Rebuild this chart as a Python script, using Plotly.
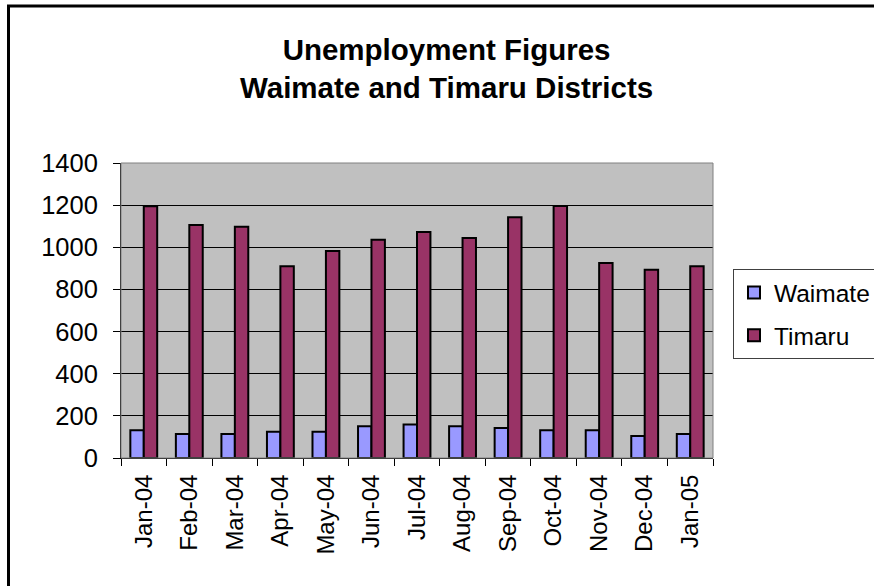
import plotly.graph_objects as go

months = ["Jan-04", "Feb-04", "Mar-04", "Apr-04", "May-04", "Jun-04", "Jul-04",
          "Aug-04", "Sep-04", "Oct-04", "Nov-04", "Dec-04", "Jan-05"]
waimate = [132, 114, 114, 124, 124, 151, 159, 151, 142, 132, 132, 105, 114]
timaru = [1195, 1106, 1098, 910, 982, 1036, 1072, 1044, 1142, 1196, 926, 893, 910]
y_ticks = [0, 200, 400, 600, 800, 1000, 1200, 1400]

FONT = "Liberation Sans, Arial, sans-serif"

W, H = 874, 586
L, R, T, B = 121, 713, 163, 458  # plot area in pixels


def px_x(p):
    return (p - L) / (R - L)


def px_y(p):
    return (B - p) / (B - T)


fig = go.Figure()
fig.add_trace(go.Bar(name="Waimate", x=months, y=waimate, legendgroup="w",
                     marker=dict(color="#9999FF", line=dict(color="black", width=2))))
fig.add_trace(go.Bar(name="Timaru", x=months, y=timaru, legendgroup="t",
                     marker=dict(color="#993366", line=dict(color="black", width=2))))

fig.update_layout(
    width=W, height=H,
    margin=dict(l=L, r=W - R, t=T, b=H - B, pad=0, autoexpand=False),
    paper_bgcolor="white",
    plot_bgcolor="#C0C0C0",
    barmode="group",
    bargap=0.41,
    bargroupgap=0,
    font=dict(family=FONT, size=24, color="black"),
    showlegend=True,
    legend=dict(
        xref="container", yref="container",
        x=733 / W, y=1 - 269 / H, xanchor="left", yanchor="top",
        bgcolor="white", bordercolor="#404040", borderwidth=1,
        font=dict(family=FONT, size=24.5, color="black"),
        itemsizing="constant", tracegroupgap=8, traceorder="grouped",
    ),
)

fig.update_xaxes(
    type="category",
    tickangle=-90,
    tickson="boundaries",
    ticks="outside", ticklen=7, tickcolor="black", tickwidth=1,
    showline=True, linecolor="black", linewidth=1,
    showgrid=False,
    tickfont=dict(family=FONT, size=24, color="black"),
    ticklabelstandoff=6,
    automargin=False,
)
fig.update_yaxes(
    range=[0, 1400],
    tickvals=y_ticks,
    ticks="outside", ticklen=7, tickcolor="black", tickwidth=1,
    showline=True, linecolor="black", linewidth=1,
    showgrid=True, gridcolor="black", gridwidth=1,
    zeroline=False,
    tickfont=dict(family=FONT, size=25.5, color="black"),
    ticklabelstandoff=10,
    automargin=False,
)

# plot-area border (top/right in gray)
fig.add_shape(type="rect", xref="paper", yref="paper", x0=0, x1=1, y0=0, y1=1,
              line=dict(color="#808080", width=1), layer="above")
# chart-area outer border
fig.add_shape(type="rect", xref="paper", yref="paper",
              x0=px_x(8.5), x1=px_x(900), y0=px_y(600), y1=px_y(6),
              line=dict(color="black", width=3), layer="above")

fig.add_annotation(
    text="<b>Unemployment Figures<br>Waimate and Timaru Districts</b>",
    xref="paper", yref="paper", x=px_x(446), y=px_y(31),
    xanchor="center", yanchor="top", showarrow=False,
    font=dict(family=FONT, size=29.5, color="black"), align="center",
)

fig.write_html("out.html",
               config={"displayModeBar": False},
               post_script="document.body.style.margin='0';document.body.style.overflow='hidden';")
